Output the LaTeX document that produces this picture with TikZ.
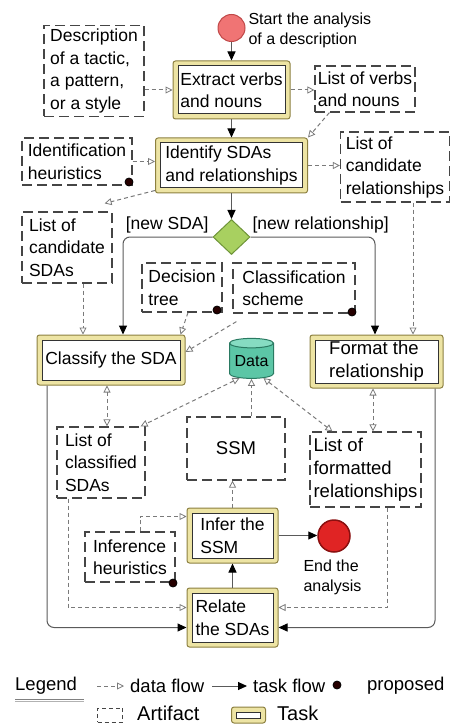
\documentclass[tikz,border=0pt]{standalone}
\usepackage{fontspec}
\setmainfont{Liberation Sans}
\usetikzlibrary{shapes.geometric,arrows.meta,calc}
\definecolor{taskedge}{HTML}{8C8040}
\definecolor{taskfill}{HTML}{EDE4A4}
\definecolor{artline}{HTML}{454545}
\definecolor{dline}{HTML}{7A7A7A}
\definecolor{tline}{HTML}{5A5A5A}
\definecolor{startred}{HTML}{F07474}
\definecolor{startedge}{HTML}{C04848}
\definecolor{endred}{HTML}{E02424}
\definecolor{endedge}{HTML}{8A1010}
\definecolor{diafill}{HTML}{A8D060}
\definecolor{diaedge}{HTML}{6E9438}
\definecolor{cylfill}{HTML}{5CC6A6}
\definecolor{cyledge}{HTML}{2A7A62}
\definecolor{cyltop}{HTML}{86DCC2}
\newcommand\tf{\fontsize{17.5}{22.5}\selectfont}
\newcommand\smallf{\fontsize{16}{20}\selectfont}
\newcommand\bigf{\fontsize{18.5}{23}\selectfont}
\newcommand\legf{\fontsize{18.5}{22}\selectfont}
\newcommand\legbig{\fontsize{20}{23}\selectfont}
\begin{document}
\begin{tikzpicture}[x=1pt,y=-1pt,
  taskbox/.style={rectangle, rounded corners=2.5pt, draw=taskedge, fill=taskfill, line width=1pt, align=left, inner sep=0pt, font=\tf,
    path picture={\draw[fill=white, draw=black!80, line width=1pt, sharp corners] ([xshift=5pt,yshift=5pt]path picture bounding box.south west) rectangle ([xshift=-5pt,yshift=-5pt]path picture bounding box.north east);}},
  artifact/.style={rectangle, draw=artline, line width=1.2pt, dash pattern=on 10pt off 5pt, align=left, inner sep=2pt, font=\tf},
  dflow/.style={draw=dline, line width=1pt, dash pattern=on 4pt off 3pt, -{Triangle[open, length=7pt, width=7pt, line width=0.8pt]}},
  ddflow/.style={draw=dline, line width=1pt, dash pattern=on 4pt off 3pt, {Triangle[open, length=7pt, width=7pt, line width=0.8pt]}-{Triangle[open, length=7pt, width=7pt, line width=0.8pt]}},
  tflow/.style={draw=tline, line width=1pt, -{Triangle[length=9pt, width=8pt, color=black]}},
  propdot/.style={circle, fill=black!85!red, draw=black, line width=0.8pt, inner sep=0pt, minimum size=8pt}
]
\useasboundingbox (0,0) rectangle (451,727);

% nodes
\node[circle, fill=startred, draw=startedge, line width=1pt, minimum size=27pt, inner sep=0pt] (start) at (231.5,28) {};
\node[anchor=west, font=\smallf, align=left] (startlbl) at (245,30) {Start the analysis\\of a description};
\node[taskbox, minimum width=117pt, minimum height=58pt] (extract) at (231.5,90) {Extract verbs\\and nouns};
\node[artifact, minimum width=100pt, minimum height=91pt] (desc) at (94,71) {Description\\of a tactic,\\a pattern,\\or a style};
\node[artifact, minimum width=100pt, minimum height=46pt] (verbs) at (365,89) {List of verbs\\and nouns};
\node[taskbox, minimum width=152pt, minimum height=55pt] (identify) at (231.5,165.5) {Identify SDAs\\and relationships};
\node[artifact, minimum width=110pt, minimum height=47pt] (idheur) at (77,161.5) {Identification\\heuristics};
\node[propdot] (p1) at (129,182) {};
\node[artifact, minimum width=109pt, minimum height=70pt] (candrel) at (395,167) {List of\\candidate\\relationships};
\node[artifact, minimum width=90pt, minimum height=71pt] (candsda) at (67,247.5) {List of\\candidate\\SDAs};
\node[diamond, fill=diafill, draw=diaedge, line width=1pt, minimum width=37pt, minimum height=35pt, inner sep=0pt] (dec) at (231.5,237) {};
\node[anchor=east, font=\tf] (lsda) at (212,225) {[new SDA]};
\node[anchor=west, font=\tf] (lrel) at (249,225) {[new relationship]};
\node[artifact, minimum width=80pt, minimum height=49pt] (tree) at (182,287.5) {Decision\\tree};
\node[propdot] (p2) at (217,310) {};
\node[artifact, minimum width=122pt, minimum height=50pt] (scheme) at (294,288) {Classification\\scheme};
\node[propdot] (p3) at (352,312) {};
\node[taskbox, minimum width=148pt, minimum height=50pt] (classify) at (111,360) {Classify the SDA};
\node[taskbox, minimum width=133pt, minimum height=53pt, font=\bigf] (format) at (376.5,361.5) {Format the\\relationship};
\node[cylinder, shape border rotate=90, aspect=0.28, draw=cyledge, line width=1pt, minimum width=44pt, minimum height=40pt, inner sep=0pt, cylinder uses custom fill, cylinder body fill=cylfill, cylinder end fill=cyltop, font=\smallf] (data) at (251.5,361) {Data};
\node[artifact, minimum width=88pt, minimum height=71pt] (clsda) at (101,462.5) {List of\\classified\\SDAs};
\node[artifact, minimum width=98pt, minimum height=63pt, font=\bigf] (ssm) at (236,448.5) {SSM};
\node[artifact, minimum width=111pt, minimum height=75pt, font=\bigf] (fmtrel) at (365.5,469.5) {List of\\formatted\\relationships};
\node[taskbox, minimum width=91pt, minimum height=55pt] (infer) at (232.5,535.5) {Infer the\\SSM};
\node[taskbox, minimum width=91pt, minimum height=59pt] (relate) at (232.5,617.5) {Relate\\the SDAs};
\node[circle, fill=endred, draw=endedge, line width=1.5pt, minimum size=32pt, inner sep=0pt] (endc) at (334,536) {};
\node[font=\smallf, align=left, anchor=north west] (endlbl) at (300,556) {End the\\analysis};
\node[artifact, minimum width=90pt, minimum height=50pt] (infheur) at (130,557) {Inference\\heuristics};
\node[propdot] (p4) at (173,583) {};

% connectors
\draw[tflow] (start) -- (start |- extract.north);
\draw[dflow] (desc.east |- extract.west) -- (extract.west);
\draw[dflow] (extract.east) -- (extract.east -| verbs.west);
\draw[tflow] (extract.south) -- (extract.south |- identify.north);
\draw[dflow] ([xshift=15pt]verbs.south west) -- (identify.north east);
\draw[dflow] (idheur.east) -- (idheur.east -| identify.west);
\draw[dflow] (identify.east) -- (identify.east -| candrel.west);
\draw[dflow] ([yshift=3pt]identify.south west) -- ([xshift=-8pt,yshift=8pt]candsda.north east);
\draw[tflow] (identify.south) -- (dec.north);
\draw[tflow, rounded corners=7pt] (dec.west) -| ([xshift=12pt]classify.north);
\draw[tflow, rounded corners=7pt] (dec.east) -| ([xshift=-1.5pt]format.north);
\draw[dflow] ([xshift=16pt]candsda.south) -- ([xshift=16pt]candsda.south |- classify.north);
\draw[dflow] ([xshift=18pt]candrel.south) -- ([xshift=18pt]candrel.south |- format.north);
\draw[dflow] ([xshift=6pt]tree.south) -- ([xshift=-5pt]classify.north east);
\draw[dflow] ([xshift=4pt,yshift=-8pt]scheme.south west) -- ([yshift=8pt]classify.east);
\draw[ddflow] ([xshift=-4pt]classify.south) -- ([xshift=-4pt]classify.south |- clsda.north);
\draw[ddflow] ([xshift=-3.5pt]format.south) -- ([xshift=-3.5pt]format.south |- fmtrel.north);
\draw[ddflow] (data.235) -- ([xshift=-5pt]clsda.north east);
\draw[dflow] (data.south |- ssm.north) -- (data.south);
\draw[ddflow] (data.-55) -- ([xshift=23pt]fmtrel.north west);
\draw[dflow] (infer.north) -- (infer.north |- ssm.south);
\draw[tflow] (relate.north) -- (infer.south);
\draw[tflow] (infer.east) -- (infer.east -| endc.west);
\draw[dflow] ([xshift=10pt]infheur.north) |- ([yshift=19pt]infer.west);
\draw[dflow] ([xshift=-33pt]clsda.south) |- ([yshift=10pt]relate.west);
\draw[dflow] ([xshift=21.5pt]fmtrel.south) |- ([yshift=10pt]relate.east);
\draw[tflow, rounded corners=7pt] ([xshift=-64pt]classify.south) |- ([yshift=-10pt]relate.west);
\draw[tflow, rounded corners=7pt] ([xshift=58.5pt]format.south) |- ([yshift=-10pt]relate.east);

% legend
\node[font=\legf, anchor=west, inner sep=0pt] (leg) at (15,686) {Legend};
\draw[gray, line width=1pt] ([yshift=-5pt]leg.south west) -- ([xshift=7pt,yshift=-5pt]leg.south east);
\draw[gray!60, line width=1pt] ([yshift=-7pt]leg.south west) -- ([xshift=7pt,yshift=-7pt]leg.south east);
\coordinate (la1) at (97,686);
\coordinate (la2) at (124,686);
\draw[dflow] (la1) -- (la2);
\node[font=\legf, anchor=west, inner sep=0pt] (ldf) at (130,686) {data flow};
\coordinate (lt1) at (212,686);
\coordinate (lt2) at (247,686);
\draw[tflow] (lt1) -- (lt2);
\node[font=\legf, anchor=west, inner sep=0pt] (ltf) at (253,686) {task flow};
\node[propdot] (lp) at (337,685) {};
\node[font=\legf, anchor=west, inner sep=0pt] (lpr) at (367,686) {proposed};
\node[artifact, minimum width=25pt, minimum height=14pt, dash pattern=on 4pt off 3pt, line width=1pt] (lart) at (110,715) {};
\node[font=\legbig, anchor=west, inner sep=0pt] (lartt) at (137,713) {Artifact};
\node[taskbox, minimum width=34pt, minimum height=16pt] (ltask) at (248.5,715) {};
\node[font=\legbig, anchor=west, inner sep=0pt] (ltaskt) at (277,713) {Task};
\end{tikzpicture}
\end{document}
